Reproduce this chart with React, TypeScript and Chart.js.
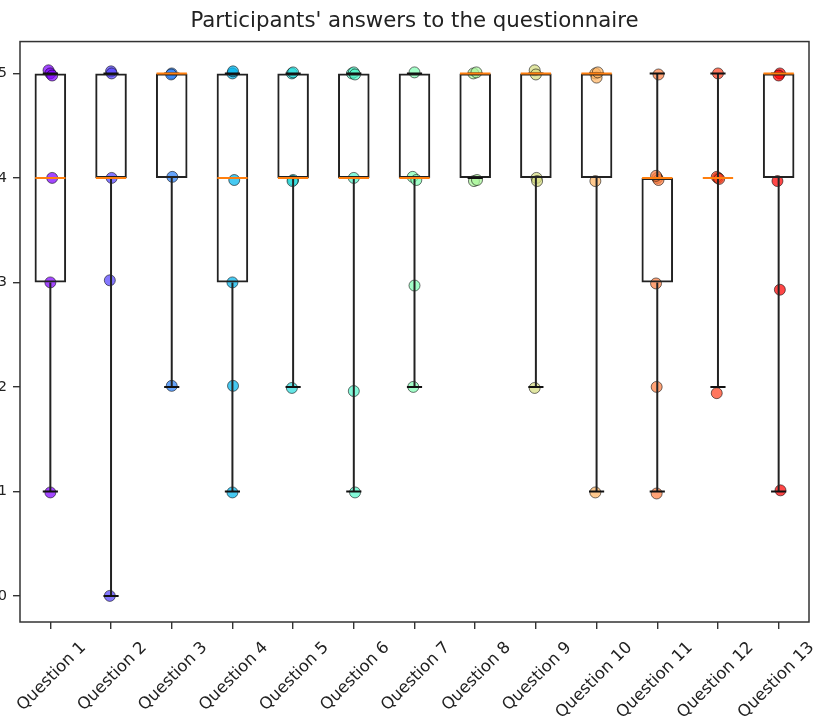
import React, { useEffect, useRef } from "react";
import { Chart, registerables } from "chart.js";

Chart.register(...registerables);

const chartTitle = "Participants' answers to the questionnaire";

const questionLabels = [
  "Question 1", "Question 2", "Question 3", "Question 4", "Question 5",
  "Question 6", "Question 7", "Question 8", "Question 9", "Question 10",
  "Question 11", "Question 12", "Question 13",
];
const questionPositions = [1, 2, 3, 4, 5, 6, 7, 8, 9, 10, 11, 12, 13];

// box-plot statistics
const boxLower = [3, 4, 4, 3, 4, 4, 4, 4, 4, 4, 3, 4, 4];
const boxMedian = [4, 4, 5, 4, 4, 4, 4, 5, 5, 5, 4, 4, 5];
const boxUpper = [5, 5, 5, 5, 5, 5, 5, 5, 5, 5, 4, 4, 5];
const whiskerLow = [1, 0, 2, 1, 2, 1, 2, 4, 2, 1, 1, 2, 1];
const whiskerHigh = [5, 5, 5, 5, 5, 5, 5, 5, 5, 5, 5, 5, 5];

// jittered answers [x, y]
const answersQ1 = [[0.97, 5.03], [1.0, 5.0], [1.03, 4.98], [1.03, 4.0], [1.0, 3.0], [1.0, 0.99]];
const answersQ2 = [[2.0, 5.02], [2.01, 5.0], [2.01, 4.0], [1.98, 3.02], [1.98, 0.0]];
const answersQ3 = [[3.0, 5.0], [2.99, 4.99], [3.01, 4.01], [3.0, 2.01]];
const answersQ4 = [[4.0, 5.0], [4.01, 5.02], [4.03, 3.98], [4.0, 3.0], [4.01, 2.01], [4.0, 0.99]];
const answersQ5 = [[4.98, 5.0], [5.0, 5.01], [5.0, 3.98], [4.99, 3.97], [4.98, 1.99]];
const answersQ6 = [[5.97, 5.0], [6.0, 5.01], [6.02, 4.99], [6.0, 4.0], [6.0, 1.96], [6.02, 0.99]];
const answersQ7 = [[7.0, 5.01], [6.97, 4.01], [7.03, 3.98], [7.0, 2.97], [6.98, 2.0]];
const answersQ8 = [[7.97, 5.0], [8.02, 5.01], [7.98, 3.97], [8.03, 3.98]];
const answersQ9 = [[8.98, 5.03], [9.0, 4.99], [9.01, 4.0], [9.02, 3.97], [8.98, 1.99]];
const answersQ10 = [[9.98, 5.0], [10.0, 4.96], [10.02, 5.01], [9.98, 3.97], [9.98, 0.99]];
const answersQ11 = [[11.02, 4.99], [11.0, 4.0], [11.02, 3.98], [10.98, 4.02], [10.98, 2.99], [10.99, 2.0], [10.99, 0.98]];
const answersQ12 = [[12.0, 5.0], [12.0, 4.0], [11.98, 4.01], [12.02, 3.99], [11.98, 1.94]];
const answersQ13 = [[13.02, 5.0], [13.0, 4.98], [12.98, 3.97], [13.02, 2.93], [13.03, 1.01]];

const allAnswers = [
  answersQ1, answersQ2, answersQ3, answersQ4, answersQ5, answersQ6, answersQ7,
  answersQ8, answersQ9, answersQ10, answersQ11, answersQ12, answersQ13,
];

// rainbow colormap samples
const pointColors = [
  [128, 0, 255], [85, 66, 253], [42, 128, 246], [0, 180, 236], [42, 221, 221],
  [85, 246, 202], [128, 255, 180], [170, 246, 155], [213, 221, 128], [255, 180, 98],
  [255, 128, 66], [255, 66, 33], [255, 0, 0],
];

const yTickValues = [0, 1, 2, 3, 4, 5];
const yMin = -0.25;
const yMax = 5.305;
const xMin = 0.5;
const xMax = 13.5;

const FONT = "'DejaVu Sans', sans-serif";

const framePlugin = {
  id: "frame",
  afterDatasetsDraw(chart: any) {
    const { ctx, chartArea } = chart;
    const { left, top, right, bottom } = chartArea;
    ctx.save();
    ctx.strokeStyle = "#333";
    ctx.lineWidth = 1.5;
    ctx.strokeRect(left, top, right - left, bottom - top);
    ctx.restore();
  },
};

export default function App() {
  const ref = useRef<HTMLCanvasElement>(null);

  useEffect(() => {
    const canvas = ref.current;
    if (!canvas) return;

    const medianData: any[] = [];
    const whiskerData: any[] = [];
    const capData: any[] = [];
    questionPositions.forEach((x, i) => {
      medianData.push({ x: x - 0.25, y: boxMedian[i] }, { x: x + 0.25, y: boxMedian[i] }, { x, y: null });
      whiskerData.push(
        { x, y: boxLower[i] }, { x, y: whiskerLow[i] }, { x, y: null },
        { x, y: boxUpper[i] }, { x, y: whiskerHigh[i] }, { x, y: null },
      );
      capData.push(
        { x: x - 0.125, y: whiskerLow[i] }, { x: x + 0.125, y: whiskerLow[i] }, { x, y: null },
        { x: x - 0.125, y: whiskerHigh[i] }, { x: x + 0.125, y: whiskerHigh[i] }, { x, y: null },
      );
    });

    const lineBase = {
      type: "line" as const,
      pointRadius: 0,
      spanGaps: false,
      fill: false,
      tension: 0,
    };

    const datasets: any[] = [
      { ...lineBase, label: "medians", data: medianData, borderColor: "#ff7f0e", borderWidth: 2, order: 0 },
      { ...lineBase, label: "caps", data: capData, borderColor: "#111", borderWidth: 2, order: 1 },
      { ...lineBase, label: "whiskers", data: whiskerData, borderColor: "#222", borderWidth: 2, order: 2 },
      {
        type: "bar",
        label: "boxes",
        data: questionPositions.map((x, i) => ({ x, y: [boxLower[i], boxUpper[i]] })),
        backgroundColor: "rgba(0,0,0,0)",
        borderColor: "#222",
        borderWidth: 2,
        borderSkipped: false,
        categoryPercentage: 1,
        barPercentage: 0.52,
        order: 3,
      },
      ...allAnswers.map((pts, i) => ({
        type: "scatter",
        label: questionLabels[i],
        data: pts.map(([x, y]) => ({ x, y })),
        backgroundColor: `rgba(${pointColors[i][0]},${pointColors[i][1]},${pointColors[i][2]},0.72)`,
        borderColor: "rgba(0,0,0,0.55)",
        borderWidth: 1,
        pointRadius: 5.5,
        order: 4,
      })),
    ];

    const chart = new Chart(canvas, {
      type: "scatter",
      data: { datasets },
      plugins: [framePlugin],
      options: {
        animation: false,
        responsive: false,
        events: [],
        layout: { padding: { left: 0, right: 11, top: 0, bottom: 0 } },
        plugins: {
          legend: { display: false },
          tooltip: { enabled: false },
          title: {
            display: true,
            fullSize: false,
            text: chartTitle,
            color: "#222",
            font: { family: FONT, size: 21.3, weight: "normal" },
            padding: { top: 9, bottom: 7 },
          },
        },
        scales: {
          x: {
            type: "linear",
            min: xMin,
            max: xMax,
            offset: false,
            border: { display: false },
            grid: {
              display: true,
              offset: false,
              drawOnChartArea: false,
              drawTicks: true,
              tickLength: 7,
              color: "#333",
              tickColor: "#333",
              lineWidth: 1.4,
            },
            afterBuildTicks: (s: any) => {
              s.ticks = questionPositions.map((v) => ({ value: v }));
            },
            afterFit: (s: any) => {
              s.height = 97;
              s.paddingLeft = 0;
              s.paddingRight = 0;
            },
            ticks: {
              autoSkip: false,
              maxRotation: 45,
              minRotation: 45,
              labelOffset: 33,
              padding: 9,
              color: "#222",
              font: { family: FONT, size: 16.5 },
              callback: (v: any) => {
                const idx = questionPositions.indexOf(Number(v));
                return idx >= 0 ? questionLabels[idx] : "";
              },
            },
          },
          y: {
            type: "linear",
            min: yMin,
            max: yMax,
            border: { display: false },
            grid: {
              display: true,
              drawOnChartArea: false,
              drawTicks: true,
              tickLength: 7,
              color: "#333",
              tickColor: "#333",
              lineWidth: 1.4,
            },
            afterBuildTicks: (s: any) => {
              s.ticks = yTickValues.map((v) => ({ value: v }));
            },
            afterFit: (s: any) => {
              s.width = 20;
              s.paddingTop = 0;
              s.paddingBottom = 0;
            },
            ticks: {
              padding: 6,
              color: "#222",
              font: { family: FONT, size: 14.5 },
              callback: (v: any) => String(v),
            },
          },
        },
      } as any,
    });

    return () => chart.destroy();
  }, []);

  return (
    <div style={{ position: "fixed", left: 0, top: 0, width: 820, height: 719, background: "#fff" }}>
      <canvas ref={ref} width={820} height={719} style={{ display: "block", width: 820, height: 719 }} />
    </div>
  );
}
